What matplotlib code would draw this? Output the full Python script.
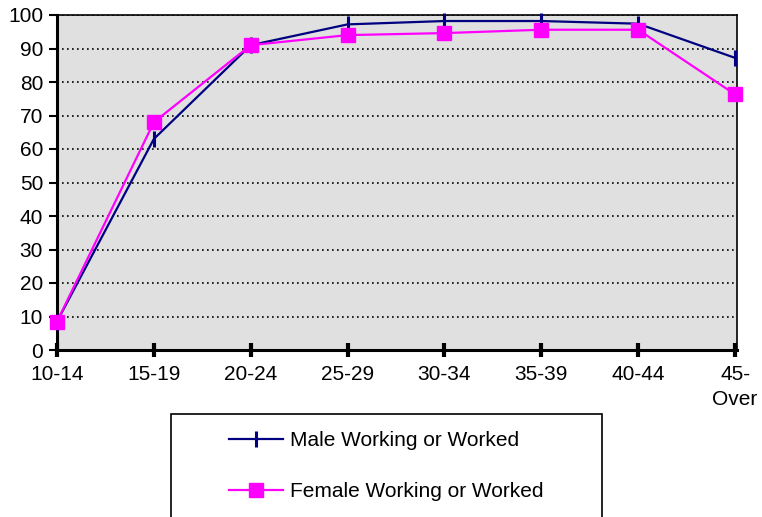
import matplotlib

matplotlib.use("Agg")
import matplotlib.pyplot as plt
from matplotlib.patches import Rectangle

# data
age_groups = ["10-14", "15-19", "20-24", "25-29", "30-34", "35-39", "40-44", "45-\nOver"]
male_worked = [8.5, 63, 91, 97.2, 98.2, 98.2, 97.4, 87.2]
female_worked = [8.5, 68, 91, 94, 94.6, 95.6, 95.6, 76.3]
y_ticks = list(range(0, 101, 10))

plt.rcParams["font.family"] = ["Liberation Sans", "DejaVu Sans"]

fig = plt.figure(figsize=(7.62, 5.17), dpi=100)
ax = fig.add_axes([57 / 762, 1 - 350 / 517, 680 / 762, 335 / 517])
ax.set_facecolor("#e0e0e0")

x = list(range(len(age_groups)))
ax.plot(x, male_worked, color="#000080", linewidth=1.6, marker="|",
        markersize=11, markeredgewidth=2.2, label="Male Working or Worked",
        zorder=3, clip_on=False)
ax.plot(x, female_worked, color="#ff00ff", linewidth=1.6, marker="s",
        markersize=10, label="Female Working or Worked", zorder=4, clip_on=False)

ax.set_xlim(0, 7.02)
ax.set_ylim(0, 100)
ax.set_xticks(x)
ax.set_xticklabels(age_groups, fontsize=15, linespacing=1.4)
ax.set_yticks(y_ticks)
ax.tick_params(axis="y", labelsize=15, length=6, width=1.5, direction="out", pad=4)
ax.tick_params(axis="x", length=10, width=3, direction="inout", pad=6)
ax.yaxis.grid(True, linestyle=(0, (1, 2)), color="black", linewidth=1.2)
ax.set_axisbelow(True)

for side in ["left", "bottom"]:
    ax.spines[side].set_linewidth(2.2)
for side in ["top", "right"]:
    ax.spines[side].set_linewidth(1.2)
ax.spines["top"].set_linestyle((0, (1, 1)))

# legend box runs off the bottom of the picture
fig.patches.append(Rectangle((171 / 762, -0.05), 431 / 762, 1 - 414 / 517 + 0.05,
                             transform=fig.transFigure, facecolor="white",
                             edgecolor="black", linewidth=1.2))
fig.legend(loc="upper left", bbox_to_anchor=(229 / 762, 1 - 431 / 517),
           frameon=False, fontsize=15, handlelength=2.6, labelspacing=1.55,
           handletextpad=0.35, borderpad=0, borderaxespad=0)

fig.savefig("out.png", dpi=100)
